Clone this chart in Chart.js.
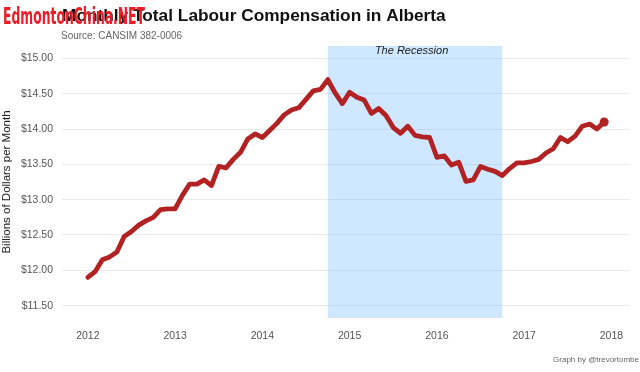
<!DOCTYPE html>
<html>
<head>
<meta charset="utf-8">
<script src="https://cdn.jsdelivr.net/npm/chart.js@4"></script>
<style>
    html, body { margin: 0; padding: 0; background: #fff; }
    #wrap { width: 640px; height: 372px; }
</style>
</head>
<body>
<div id="wrap"><canvas id="compChart" width="640" height="372"></canvas></div>
<script>
// monthly values, billions of dollars (Jan 2012 - Dec 2017)
const startYear = 2012;
const values2012 = [11.90, 11.98, 12.15, 12.19, 12.26, 12.48, 12.55, 12.64, 12.70, 12.75, 12.86, 12.87];
const values2013 = [12.87, 13.06, 13.22, 13.22, 13.28, 13.20, 13.47, 13.45, 13.57, 13.67, 13.86, 13.93];
const values2014 = [13.88, 13.98, 14.08, 14.20, 14.27, 14.30, 14.42, 14.54, 14.56, 14.70, 14.51, 14.36];
const values2015 = [14.52, 14.45, 14.41, 14.22, 14.29, 14.19, 14.02, 13.94, 14.04, 13.91, 13.89, 13.88];
const values2016 = [13.60, 13.62, 13.49, 13.53, 13.26, 13.28, 13.47, 13.43, 13.40, 13.34, 13.44, 13.52];
const values2017 = [13.52, 13.54, 13.57, 13.66, 13.72, 13.88, 13.82, 13.90, 14.04, 14.07, 14.00, 14.10];

const yearTicks = [2012, 2013, 2014, 2015, 2016, 2017, 2018];
const dollarTicks = [11.5, 12.0, 12.5, 13.0, 13.5, 14.0, 14.5, 15.0];

// recession band (fractional years)
const recession = [2014.75, 2016.75];
const recessionLabel = 'The Recession';

const allValues = [].concat(values2012, values2013, values2014, values2015, values2016, values2017);
const points = allValues.map((v, i) => ({ x: startYear + i / 12, y: v }));

const FONT = "'Liberation Sans', Arial, sans-serif";

// shaded recession box + label
const recessionPlugin = {
    id: 'recession',
    beforeDatasetsDraw: chart => {
        const { ctx, chartArea, scales } = chart;
        const x0 = scales.x.getPixelForValue(recession[0]);
        const x1 = scales.x.getPixelForValue(recession[1]);
        ctx.save();
        ctx.fillStyle = 'rgba(30, 144, 255, 0.21)';
        ctx.fillRect(x0, chartArea.top, x1 - x0, chartArea.bottom - chartArea.top);
        ctx.restore();
    },
    afterDatasetsDraw: chart => {
        const { ctx, scales } = chart;
        ctx.save();
        ctx.font = 'italic 11px ' + FONT;
        ctx.fillStyle = '#1a1a1a';
        ctx.textAlign = 'center';
        ctx.textBaseline = 'middle';
        ctx.fillText(recessionLabel, scales.x.getPixelForValue(2015.71), scales.y.getPixelForValue(15.10));
        ctx.restore();
    }
};

// title, subtitle, caption and the watermark
const textPlugin = {
    id: 'texts',
    afterDraw: chart => {
        const ctx = chart.ctx;
        const left = chart.chartArea.left;
        ctx.save();
        ctx.textBaseline = 'alphabetic';
        ctx.textAlign = 'left';
        ctx.fillStyle = '#111';
        ctx.font = 'bold 17.3px ' + FONT;
        ctx.fillText('Monthly Total Labour Compensation in Alberta', left, 21);
        ctx.fillStyle = '#666';
        ctx.font = '10px ' + FONT;
        ctx.fillText('Source: CANSIM 382-0006', left - 1, 39);
        ctx.textAlign = 'right';
        ctx.font = '8px ' + FONT;
        ctx.fillText('Graph by @trevortombe', 639, 362);

        // red watermark over the title
        ctx.textAlign = 'left';
        ctx.font = "bold 23px 'DejaVu Sans Condensed', 'Liberation Sans Narrow', sans-serif";
        const w = ctx.measureText('EdmontonChina.NET').width;
        ctx.translate(3, 24);
        ctx.scale(142 / w, 1);
        ctx.fillStyle = '#ee1c25';
        ctx.fillText('EdmontonChina.NET', 0, 0);
        ctx.restore();
    }
};

const ctx = document.getElementById('compChart');
const lastIndex = points.length - 1;

const myChart = new Chart(ctx, {
    type: 'line',
    data: {
        datasets: [{
            data: points,
            borderColor: '#b22222',
            backgroundColor: '#b22222',
            borderWidth: 4.8,
            borderJoinStyle: 'round',
            borderCapStyle: 'round',
            tension: 0,
            pointRadius: c => c.dataIndex === lastIndex ? 4.5 : 0,
            pointBorderWidth: 0,
            pointHoverRadius: 0,
            fill: false
        }]
    },
    options: {
        responsive: false,
        maintainAspectRatio: false,
        animation: false,
        layout: { padding: { top: 46, right: 10, left: 0, bottom: 0 } },
        plugins: {
            legend: { display: false },
            tooltip: { enabled: false }
        },
        scales: {
            x: {
                type: 'linear',
                min: 2011.704,
                max: 2018.213,
                afterBuildTicks: s => { s.ticks = yearTicks.map(v => ({ value: v })); },
                afterFit: s => { s.height = 54; },
                grid: { display: false },
                border: { display: false },
                ticks: {
                    padding: 4,
                    color: '#555',
                    font: { family: FONT, size: 10.5 },
                    callback: v => String(v),
                    maxRotation: 0
                }
            },
            y: {
                min: 11.325,
                max: 15.175,
                afterBuildTicks: s => { s.ticks = dollarTicks.map(v => ({ value: v })); },
                afterFit: s => { s.width = 62; },
                grid: { color: '#ebebeb', lineWidth: 1, drawTicks: false },
                border: { display: false },
                ticks: {
                    padding: 9,
                    color: '#555',
                    font: { family: FONT, size: 10.5 },
                    callback: v => '$' + Number(v).toFixed(2)
                },
                title: {
                    display: true,
                    text: 'Billions of Dollars per Month',
                    color: '#222',
                    font: { family: FONT, size: 11.5 },
                    padding: { top: 0, bottom: 0 }
                }
            }
        }
    },
    plugins: [recessionPlugin, textPlugin]
});
</script>
</body>
</html>
